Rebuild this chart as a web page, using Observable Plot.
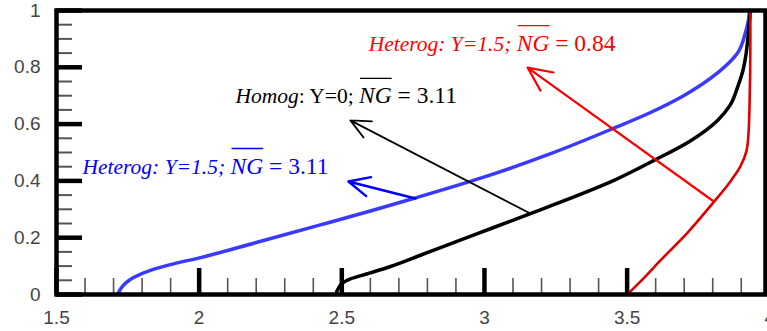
<!DOCTYPE html>
<html>
<head>
<meta charset="utf-8">
<script src="https://cdn.jsdelivr.net/npm/d3@7"></script>
<script src="https://cdn.jsdelivr.net/npm/@observablehq/plot@0.6"></script>
<style>body{margin:0;background:#fff}</style>
</head>
<body>
<div id="chart"></div>
<script>
// ---- data ----
const xMajor = [1.5, 2, 2.5, 3, 3.5, 4];
const xMinor = [1.6,1.7,1.8,1.9,2.1,2.2,2.3,2.4,2.6,2.7,2.8,2.9,3.1,3.2,3.3,3.4,3.6,3.7,3.8,3.9];
const yMajor = [0, 0.2, 0.4, 0.6, 0.8, 1];
const yMinor = [0.05,0.1,0.15,0.25,0.3,0.35,0.45,0.5,0.55,0.65,0.7,0.75,0.85,0.9,0.95];

const blueCurve = [[1.714,0],[1.725,0.02],[1.742,0.04],[1.77,0.06],[1.829,0.085],[1.91,0.108],[2.005,0.13],[2.2,0.183],[2.425,0.245],[2.6,0.294],[2.751,0.338],[3.0,0.414],[3.232,0.496],[3.452,0.585],[3.58,0.64],[3.698,0.70],[3.817,0.78],[3.887,0.85],[3.914,0.92],[3.925,0.965],[3.929,1.0]];
const blackCurve = [[2.478,0],[2.486,0.018],[2.502,0.04],[2.53,0.055],[2.59,0.073],[2.66,0.095],[2.78,0.14],[2.892,0.183],[3.03,0.235],[3.161,0.285],[3.232,0.312],[3.452,0.401],[3.6,0.475],[3.72,0.54],[3.817,0.613],[3.86,0.665],[3.887,0.729],[3.905,0.785],[3.915,0.835],[3.925,0.92],[3.932,1.0]];
const redCurve = [[3.501,0],[3.547,0.046],[3.617,0.12],[3.712,0.218],[3.799,0.32],[3.862,0.398],[3.897,0.451],[3.918,0.504],[3.925,0.56],[3.929,0.665],[3.932,0.894],[3.932,1.0]];

// annotation texts (parts: text, italic?, overline?, math?)
const redLabel   = [["Heterog: Y=1.5; ", true, false, false], ["NG", true, true, true], [" = 0.84", false, false, true]];
const blackLabel = [["Homog", true, false, false], [": Y=0; ", false, false, false], ["NG", true, true, true], [" = 3.11", false, false, true]];
const blueLabel  = [["Heterog: Y=1.5; ", true, false, false], ["NG", true, true, true], [" = 3.11", false, false, true]];
// label anchors (data units) and arrows [x1,y1,x2,y2] (data units)
const redLabelAt = [2.594, 0.859],   redArrow   = [3.799, 0.331, 3.151, 0.799];
const blackLabelAt = [2.127, 0.673], blackArrow = [3.161, 0.285, 2.530, 0.613];
const blueLabelAt = [1.591, 0.426],  blueArrow  = [2.758, 0.338, 2.523, 0.398];

// ---- styles ----
const W = 767, H = 331, mL = 56, mR = 2, mT = 10, mB = 37;
const PW = W - mL - mR, PH = H - mT - mB;
const FS = 21.5, FS_MATH = 23.5;
const styles = {
  blue:  {curve: "#3a3aff", curveW: 3.5, text: "#0000ff", arrowW: 2.4},
  black: {curve: "#000000", curveW: 3.5, text: "#000000", arrowW: 1.8},
  red:   {curve: "#e00000", curveW: 2.6, text: "#ff0000", arrowW: 2.2}
};
const series = [
  {key: "blue", pts: blueCurve, label: blueLabel, at: blueLabelAt, arrow: blueArrow},
  {key: "black", pts: blackCurve, label: blackLabel, at: blackLabelAt, arrow: blackArrow},
  {key: "red", pts: redCurve, label: redLabel, at: redLabelAt, arrow: redArrow}
];
const fullText = parts => parts.map(p => p[0]).join("");

const marks = [
  Plot.tickY(yMinor, {y: d => d, insetRight: PW - 16, stroke: "#555", strokeWidth: 2}),
  Plot.tickY(yMajor, {y: d => d, insetRight: PW - 26, stroke: "#000", strokeWidth: 4.5}),
  Plot.tickX(xMinor, {x: d => d, insetTop: PH - 16, stroke: "#555", strokeWidth: 1.6}),
  Plot.tickX(xMajor, {x: d => d, insetTop: PH - 26, stroke: "#000", strokeWidth: 4.5}),
  Plot.axisX({ticks: xMajor, tickSize: 0, tickPadding: 16, tickFormat: d => String(d), fontSize: 19, color: "#444", label: null}),
  Plot.axisY({ticks: yMajor, tickSize: 0, tickPadding: 16, tickFormat: d => String(d), fontSize: 19, color: "#444", label: null})
];
for (const s of series) {
  const st = styles[s.key];
  marks.push(Plot.line(s.pts.map(([x, y]) => ({x, y})), {x: "x", y: "y", stroke: st.curve, strokeWidth: st.curveW, curve: "monotone-y"}));
}
for (const s of series) {
  const st = styles[s.key];
  const [x1, y1, x2, y2] = s.arrow;
  marks.push(Plot.arrow([{x1, y1, x2, y2}], {x1: "x1", y1: "y1", x2: "x2", y2: "y2", stroke: st.text, strokeWidth: st.arrowW, headLength: 18, headAngle: 50}));
  marks.push(Plot.text([{x: s.at[0], y: s.at[1], t: fullText(s.label)}], {x: "x", y: "y", text: "t", fill: st.text, textAnchor: "start", lineAnchor: "bottom", fontSize: FS, fontFamily: "Liberation Serif, Times New Roman, serif"}));
}
marks.push(Plot.frame({stroke: "#000", strokeWidth: 4.5}));

const svg = Plot.plot({
  width: W, height: H, marginLeft: mL, marginRight: mR, marginTop: mT, marginBottom: mB,
  x: {domain: [1.5, 3.985]},
  y: {domain: [0, 1]},
  style: {fontFamily: "Liberation Sans, Arial, sans-serif", background: "#fff", overflow: "visible"},
  marks
});
document.getElementById("chart").append(svg);

// rich text: italic parts, math parts and overline
const NS = "http://www.w3.org/2000/svg";
svg.querySelectorAll("text").forEach(t => {
  const s = series.find(s => fullText(s.label) === t.textContent);
  if (!s) return;
  const color = styles[s.key].text;
  t.textContent = "";
  for (const [str, it, , math] of s.label) {
    const ts = document.createElementNS(NS, "tspan");
    ts.textContent = str;
    ts.setAttribute("font-style", it ? "italic" : "normal");
    if (math) ts.setAttribute("font-size", FS_MATH);
    t.appendChild(ts);
  }
  let idx = 0;
  for (const [str, , over] of s.label) {
    if (over) {
      const a = t.getExtentOfChar(idx), b = t.getExtentOfChar(idx + str.length - 1);
      const ln = document.createElementNS(NS, "line");
      const y = -25;
      ln.setAttribute("x1", a.x + 1); ln.setAttribute("x2", b.x + b.width);
      ln.setAttribute("y1", y); ln.setAttribute("y2", y);
      ln.setAttribute("stroke", color); ln.setAttribute("stroke-width", 1.3);
      const tr = t.getAttribute("transform");
      if (tr) ln.setAttribute("transform", tr);
      t.parentNode.appendChild(ln);
    }
    idx += str.length;
  }
});
</script>
</body>
</html>
